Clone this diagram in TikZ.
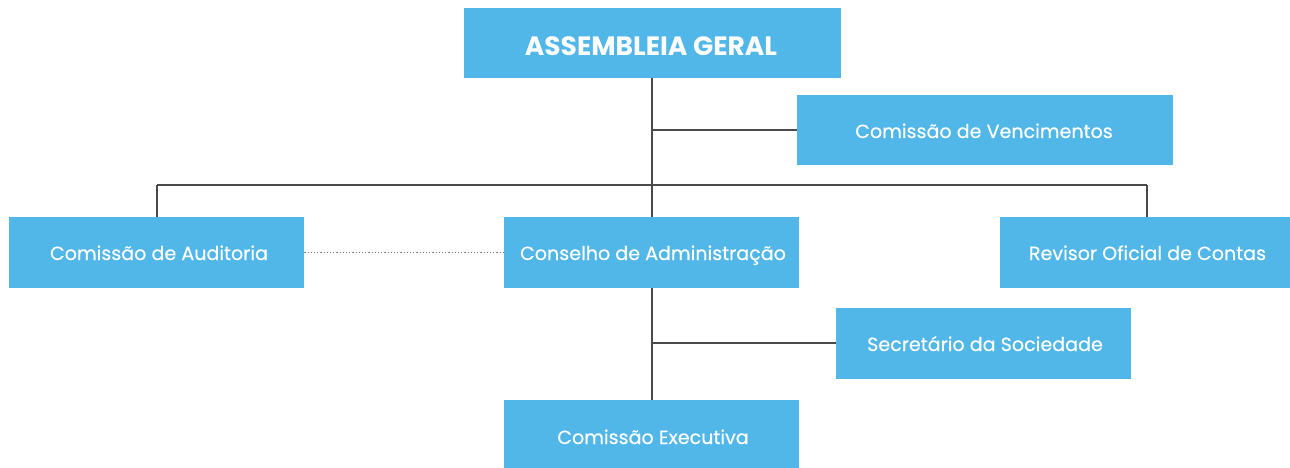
\documentclass[tikz,border=0pt]{standalone}
\usepackage{fontspec}
\setmainfont{Poppins}
\newfontfamily\bodyfont{Poppins}[FakeBold=0.4]
\definecolor{boxblue}{HTML}{50B7E8}
\definecolor{linegray}{HTML}{4A4A4A}
\definecolor{dotgray}{HTML}{7A7A7A}
\begin{document}
\begin{tikzpicture}[x=1pt,y=-1pt,
  orgbox/.style={fill=boxblue,draw=none,inner sep=0pt,anchor=north west},
  boxtext/.style={text=white,font=\bodyfont\fontsize{19.1}{22}\selectfont,inner sep=0pt,text height=17pt,text depth=3pt},
  titletext/.style={text=white,font=\fontsize{26.5}{30}\selectfont\bfseries,inner sep=0pt},
  conn/.style={draw=linegray,line width=1.3pt},
  dotconn/.style={draw=dotgray,line width=1.2pt,dotted}]
\useasboundingbox (0,0) rectangle (1290,468);
\clip (0,0) rectangle (1290,468);
% boxes
\node[orgbox,minimum width=377pt,minimum height=70pt] (ag) at (464,8) {};
\node[orgbox,minimum width=376pt,minimum height=70pt] (cv) at (797,95) {};
\node[orgbox,minimum width=295pt,minimum height=71pt] (ca) at (9,217) {};
\node[orgbox,minimum width=295pt,minimum height=71pt] (cadm) at (504,217) {};
\node[orgbox,minimum width=295pt,minimum height=71pt] (roc) at (1000,217) {};
\node[orgbox,minimum width=295pt,minimum height=71pt] (ss) at (836,308) {};
\node[orgbox,minimum width=295pt,minimum height=68pt] (ce) at (504,400) {};
% texts
\node[titletext] (tag) at (651,46) {ASSEMBLEIA GERAL};
\node[boxtext] (tcv) at (984,131) {Comissão de Vencimentos};
\node[boxtext] (tca) at (159,253) {Comissão de Auditoria};
\node[boxtext] (tcadm) at (653,253) {Conselho de Administração};
\node[boxtext] (troc) at (1147.5,253) {Revisor Oficial de Contas};
\node[boxtext] (tss) at (985,344) {Secretário da Sociedade};
\node[boxtext] (tce) at (653,437) {Comissão Executiva};
% connector points
\coordinate (j1) at (652,130);
\coordinate (jl) at (157,185);
\coordinate (jr) at (1147,185);
\coordinate (j3) at (652,343);
% connectors
\draw[conn] (ag.south -| j1) -- (cadm.north -| j1);
\draw[conn] (j1) -- (cv.west |- j1);
\draw[conn] (jl) -- (jr);
\draw[conn] (jl) -- (ca.north -| jl);
\draw[conn] (jr) -- (roc.north -| jr);
\draw[conn] (cadm.south -| j3) -- (ce.north -| j3);
\draw[conn] (j3) -- (ss.west |- j3);
\draw[dotconn] (ca.east) -- (cadm.west);
\end{tikzpicture}
\end{document}
